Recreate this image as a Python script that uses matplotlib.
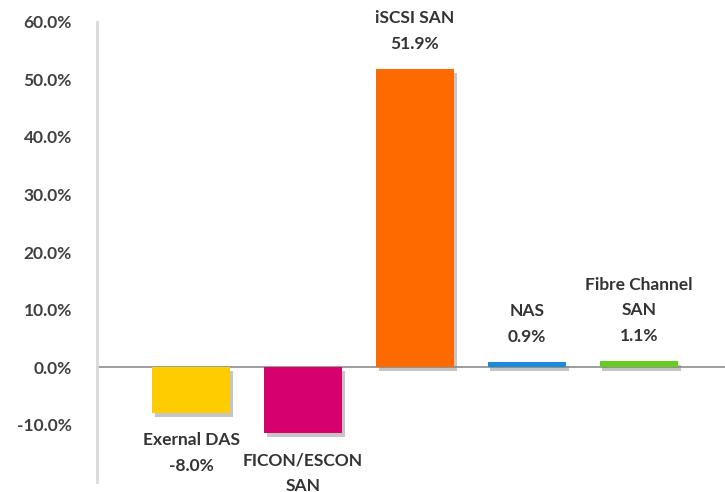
import matplotlib
matplotlib.use("Agg")
import matplotlib.pyplot as plt
import matplotlib.patheffects as pe
from matplotlib.ticker import FuncFormatter

# data
categories = ["Exernal DAS", "FICON/ESCON\nSAN", "iSCSI SAN", "NAS", "Fibre Channel\nSAN"]
growth = [-8.0, -11.5, 51.9, 0.9, 1.1]
colors = ["#FFCC00", "#D6006E", "#FF6A00", "#1F8BD6", "#66CC22"]
yticks = [-10, 0, 10, 20, 30, 40, 50, 60]

plt.rcParams['font.family'] = ['Lato', 'DejaVu Sans']

fig = plt.figure(figsize=(7.25, 4.92), dpi=100)
ax = fig.add_axes([0.1338, 0.0203, 0.8662, 0.935])

x = list(range(len(categories)))
bars = ax.bar(x, growth, width=0.7, color=colors, edgecolor="none", zorder=3)
for b in bars:
    b.set_path_effects([pe.SimplePatchShadow(offset=(2, -3), shadow_rgbFace="#808080", alpha=0.45),
                        pe.Normal()])

ax.axhline(0, color="#8c8c8c", lw=1.2, zorder=2)

for xi, val, name in zip(x, growth, categories):
    txt = "%s\n%.1f%%" % (name, val)
    if val >= 0:
        ax.annotate(txt, (xi, val), xytext=(0, 12), textcoords="offset points",
                    ha="center", va="bottom", fontsize=12.5, fontweight="bold",
                    color="#333333", linespacing=1.75, annotation_clip=False)
    else:
        ax.annotate(txt, (xi, val), xytext=(0, -14), textcoords="offset points",
                    ha="center", va="top", fontsize=12.5, fontweight="bold",
                    color="#333333", linespacing=1.75, annotation_clip=False)

ax.set_ylim(-20, 60)
ax.set_xlim(-0.84, 4.77)
ax.set_yticks(yticks)
ax.yaxis.set_major_formatter(FuncFormatter(lambda v, p: "%.1f%%" % v))
ax.tick_params(axis="y", length=0, pad=18, labelsize=12.5, labelcolor="#404040")
for lab in ax.get_yticklabels():
    lab.set_fontweight("bold")
ax.set_xticks([])

for s in ["top", "right", "bottom"]:
    ax.spines[s].set_visible(False)
ax.spines["left"].set_color("#d9d9d9")
ax.spines["left"].set_linewidth(2)

fig.savefig("out.png", dpi=100)
